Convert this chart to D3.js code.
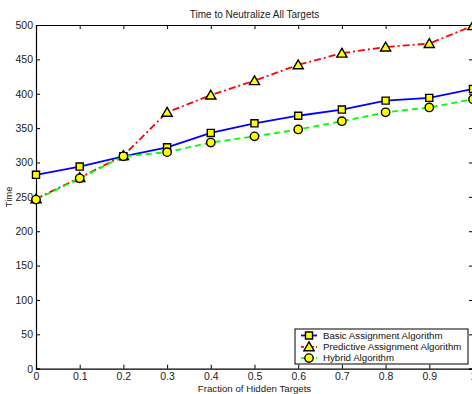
<!DOCTYPE html>
<html>
<head>
<meta charset="utf-8">
<script src="https://cdn.jsdelivr.net/npm/d3@7"></script>
<style>
  body { margin: 0; background: #fff; }
  svg { display: block; font-family: "Liberation Sans", Arial, sans-serif; }
  .axis path, .axis line { stroke: #000; }
  .axis text { fill: #222; font-size: 10.5px; }
</style>
</head>
<body>
<div id="chart"></div>
<script>
// fraction of hidden targets
var fractions = [0, 0.1, 0.2, 0.3, 0.4, 0.5, 0.6, 0.7, 0.8, 0.9, 1];
var basicTimes = [282, 294, 309, 322, 343, 357, 368, 377, 390, 394, 407];
var predictiveTimes = [247, 278, 310, 373, 398, 419, 442, 459, 468, 473, 499];
var hybridTimes = [246, 277, 309, 315, 329, 338, 348, 360, 373, 380, 392];
var yTicks = [0, 50, 100, 150, 200, 250, 300, 350, 400, 450, 500];
var seriesNames = ["Basic Assignment Algorithm", "Predictive Assignment Algorithm", "Hybrid Algorithm"];

var width = 472, height = 394;
var padding = { top: 25, right: -1, bottom: 25.3, left: 36 };

var svg = d3.select("#chart").append("svg")
  .attr("width", width)
  .attr("height", height);

var xscale = d3.scaleLinear().domain([0, 1])
  .range([padding.left, width - padding.right]);
var yscale = d3.scaleLinear().domain([0, 500])
  .range([height - padding.bottom, padding.top]);

// box + ticks (inward, on all four sides like matlab)
svg.append("g").attr("class", "axis")
  .attr("transform", "translate(0," + (height - padding.bottom) + ")")
  .call(d3.axisBottom(xscale).tickValues(fractions).tickSize(-4).tickPadding(4)
    .tickFormat(function (d) { return d3.format("")(d); }));
svg.append("g").attr("class", "axis")
  .attr("transform", "translate(0," + padding.top + ")")
  .call(d3.axisTop(xscale).tickValues(fractions).tickSize(-4).tickFormat(""));
svg.append("g").attr("class", "axis")
  .attr("transform", "translate(" + padding.left + ",0)")
  .call(d3.axisLeft(yscale).tickValues(yTicks).tickSize(-4).tickPadding(3));
svg.append("g").attr("class", "axis")
  .attr("transform", "translate(" + (width - padding.right) + ",0)")
  .call(d3.axisRight(yscale).tickValues(yTicks).tickSize(-4).tickFormat(""));
svg.selectAll(".axis .domain").attr("stroke-width", 1.2);

// titles
svg.append("text")
  .attr("x", (xscale(0) + xscale(1)) / 2).attr("y", 17.5)
  .attr("text-anchor", "middle").attr("font-size", 10).attr("fill", "#222")
  .text("Time to Neutralize All Targets");
svg.append("text")
  .attr("x", (xscale(0) + xscale(1)) / 2).attr("y", 392)
  .attr("text-anchor", "middle").attr("font-size", 9.7).attr("fill", "#222")
  .text("Fraction of Hidden Targets");
svg.append("text")
  .attr("transform", "translate(12," + yscale(250) + ") rotate(-90)")
  .attr("text-anchor", "middle").attr("font-size", 9.5).attr("fill", "#222")
  .text("Time");

var series = [
  { name: seriesNames[0], values: basicTimes, color: "#0000ff", dash: null, marker: d3.symbolSquare, size: 50 },
  { name: seriesNames[1], values: predictiveTimes, color: "#ff0000", dash: "7,3,2,3", marker: d3.symbolTriangle, size: 45 },
  { name: seriesNames[2], values: hybridTimes, color: "#00ff00", dash: "6,4", marker: d3.symbolCircle, size: 55 }
];

var line = d3.line()
  .x(function (d, i) { return xscale(fractions[i]); })
  .y(function (d) { return yscale(d); });

// draw order: predictive, basic, hybrid (hybrid circles on top)
[series[1], series[0], series[2]].forEach(function (s) {
  var g = svg.append("g");
  g.append("path")
    .datum(s.values)
    .attr("d", line)
    .attr("fill", "none")
    .attr("stroke", s.color)
    .attr("stroke-width", 1.8)
    .attr("stroke-dasharray", s.dash);
  g.selectAll(".marker").data(s.values).enter().append("path")
    .attr("class", "marker")
    .attr("d", d3.symbol().type(s.marker).size(s.size))
    .attr("transform", function (d, i) {
      var dy = s.marker === d3.symbolTriangle ? 1 : 0;
      return "translate(" + xscale(fractions[i]) + "," + (yscale(d) + dy) + ")";
    })
    .attr("fill", "#ffff00")
    .attr("stroke", "#000")
    .attr("stroke-width", 1.4);
});

// legend
var legend = svg.append("g").attr("transform", "translate(295,329)");
legend.append("rect")
  .attr("width", 173).attr("height", 35)
  .attr("fill", "#fff").attr("stroke", "#000").attr("stroke-width", 1);
series.forEach(function (s, i) {
  var y = 6.5 + i * 11.3;
  legend.append("line")
    .attr("x1", 6).attr("x2", 22).attr("y1", y).attr("y2", y)
    .attr("stroke", s.color).attr("stroke-width", 1.8)
    .attr("stroke-dasharray", s.dash ? "3,2" : null);
  legend.append("path")
    .attr("d", d3.symbol().type(s.marker).size(s.size))
    .attr("transform", "translate(14," + (y + (s.marker === d3.symbolTriangle ? 1 : 0)) + ")")
    .attr("fill", "#ffff00").attr("stroke", "#000").attr("stroke-width", 1.4);
  legend.append("text")
    .attr("x", 28).attr("y", y + 3.3)
    .attr("font-size", 9.7).attr("fill", "#111")
    .text(s.name);
});
</script>
</body>
</html>
